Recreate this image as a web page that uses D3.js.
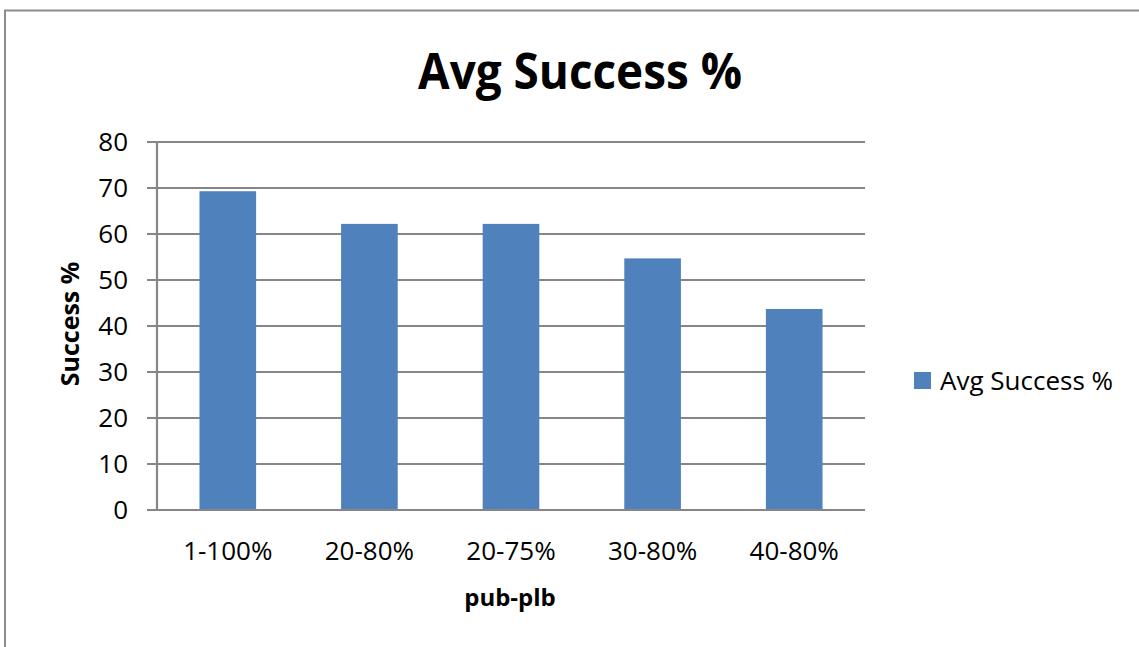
<!DOCTYPE html>
<html>
<head>
<meta charset="utf-8">
<script src="https://cdn.jsdelivr.net/npm/d3@7"></script>
<style>
  html, body { margin: 0; padding: 0; background: #fff; }
  svg { display: block; font-family: "Open Sans", "DejaVu Sans", sans-serif; }
</style>
</head>
<body>
<svg id="chart" width="1139" height="647"></svg>
<script>
const categories = ["1-100%", "20-80%", "20-75%", "30-80%", "40-80%"];
const values = [69.3, 62.2, 62.2, 54.7, 43.7];
const yTicks = [0, 10, 20, 30, 40, 50, 60, 70, 80];
const seriesName = "Avg Success %";
const chartTitle = "Avg Success %";
const xTitle = "pub-plb";
const yTitle = "Success %";

const svg = d3.select("#chart");
const gridColor = "#868686";
const barColor = "#4F81BD";

// outer frame (left and top edges visible)
svg.append("path")
  .attr("d", "M5,647 L5,10.5 L1139,10.5")
  .attr("fill", "none").attr("stroke", "#8c8c8c").attr("stroke-width", 2);

const plot = { left: 157, right: 865, top: 142, bottom: 510 };

const x = d3.scaleBand().domain(categories).range([plot.left, plot.right]).padding(0);
const y = d3.scaleLinear().domain([0, 80]).range([plot.bottom, plot.top]);

// gridlines
svg.append("g").selectAll("line").data(yTicks).join("line")
  .attr("x1", plot.left - 10).attr("x2", plot.right)
  .attr("y1", d => y(d)).attr("y2", d => y(d))
  .attr("stroke", gridColor).attr("stroke-width", 2.2);

// y axis line
svg.append("line")
  .attr("x1", plot.left).attr("x2", plot.left)
  .attr("y1", y(80)).attr("y2", y(0))
  .attr("stroke", gridColor).attr("stroke-width", 2.2);

// y tick labels
svg.append("g").selectAll("text").data(yTicks).join("text")
  .attr("x", 128).attr("y", d => y(d))
  .attr("dy", "0.36em")
  .attr("text-anchor", "end")
  .attr("font-size", 26)
  .attr("fill", "#000")
  .text(d => d);

// bars
const barW = x.bandwidth() * 0.4;
svg.append("g").selectAll("rect").data(values).join("rect")
  .attr("x", (d, i) => x(categories[i]) + (x.bandwidth() - barW) / 2)
  .attr("width", barW)
  .attr("y", d => y(d))
  .attr("height", d => y(0) - y(d))
  .attr("fill", barColor);

// redraw x axis line on top
svg.append("line")
  .attr("x1", plot.left - 10).attr("x2", plot.right)
  .attr("y1", y(0)).attr("y2", y(0))
  .attr("stroke", gridColor).attr("stroke-width", 2.2);

// category labels
svg.append("g").selectAll("text").data(categories).join("text")
  .attr("x", d => x(d) + x.bandwidth() / 2)
  .attr("y", 560)
  .attr("text-anchor", "middle")
  .attr("font-size", 26)
  .attr("fill", "#000")
  .text(d => d);

// title
svg.append("text")
  .attr("x", 580).attr("y", 89)
  .attr("text-anchor", "middle")
  .attr("font-size", 50).attr("font-weight", "bold")
  .attr("textLength", 324).attr("lengthAdjust", "spacingAndGlyphs")
  .text(chartTitle);

// x title
svg.append("text")
  .attr("x", 510).attr("y", 606)
  .attr("text-anchor", "middle")
  .attr("font-size", 24).attr("font-weight", "bold")
  .text(xTitle);

// y title
svg.append("text")
  .attr("transform", "translate(79,324) rotate(-90)")
  .attr("text-anchor", "middle")
  .attr("font-size", 25).attr("font-weight", "bold")
  .text(yTitle);

// legend
const lg = svg.append("g").attr("transform", "translate(914,372)");
lg.append("rect").attr("width", 17).attr("height", 17).attr("fill", barColor);
lg.append("text").attr("x", 26).attr("y", 18)
  .attr("font-size", 26).attr("fill", "#000")
  .text(seriesName);
</script>
</body>
</html>
